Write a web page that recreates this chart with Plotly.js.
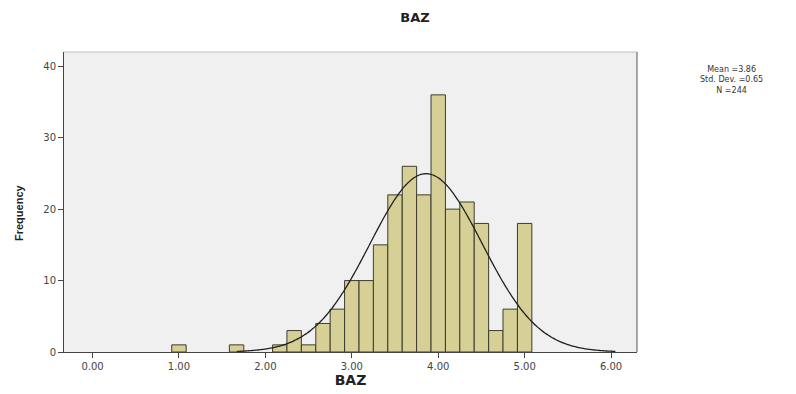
<!DOCTYPE html>
<html>
<head>
<meta charset="utf-8">
<script src="https://cdn.plot.ly/plotly-3.0.1.min.js"></script>
<style>html,body{margin:0;padding:0;background:#fff;}#chart{width:796px;height:394px;}</style>
</head>
<body>
<div id="chart"></div>
<script>
// Histogram of BAZ (bin centres and frequencies)
const binCenters = [1.000, 1.667, 2.167, 2.333, 2.500, 2.667, 2.833, 3.000, 3.167, 3.333,
                    3.500, 3.667, 3.833, 4.000, 4.167, 4.333, 4.500, 4.667, 4.833, 5.000];
const frequencies = [1, 1, 1, 3, 1, 4, 6, 10, 10, 15,
                     22, 26, 22, 36, 20, 21, 18, 3, 6, 18];
const binWidth = 1 / 6;

// Summary statistics shown on the chart
const statMean = 3.86;
const statSD = 0.65;
const statN = 244;
const statLabels = ['Mean =3.86', 'Std. Dev. =0.65', 'N =244'];

const xTickVals = [0, 1, 2, 3, 4, 5, 6];
const yTickVals = [0, 10, 20, 30, 40];

// Fitted normal curve from the displayed mean / SD / N (as SPSS draws it)
const curveStart = 1.67, curveEnd = 6.05;
const curveX = [], curveY = [];
for (let x = curveStart; x <= curveEnd + 1e-9; x += 0.02) {
  const z = (x - statMean) / statSD;
  curveX.push(x);
  curveY.push(statN * binWidth / (statSD * Math.sqrt(2 * Math.PI)) * Math.exp(-0.5 * z * z));
}

const font = '"DejaVu Sans", Arial, sans-serif';
const plotW = 796 - 64 - 159, plotH = 394 - 52 - 42;

const traces = [
  {
    type: 'bar',
    x: binCenters,
    y: frequencies,
    width: binCenters.map(() => binWidth),
    marker: { color: '#d6d096', line: { color: '#3c3c30', width: 1 } },
    hoverinfo: 'x+y',
    showlegend: false
  },
  {
    type: 'scatter',
    mode: 'lines',
    x: curveX,
    y: curveY,
    line: { color: '#222222', width: 1.3, shape: 'spline' },
    hoverinfo: 'skip',
    showlegend: false
  }
];

const annotations = [{
  text: statLabels.join('<br>'), xref: 'paper', yref: 'paper',
  x: (731 - 64) / plotW, y: 1 - (28 / plotH),
  xanchor: 'center', yanchor: 'middle', align: 'center', showarrow: false,
  font: { family: font, size: 8, color: '#333' }
}, {
  text: '<b>Frequency</b>', xref: 'paper', yref: 'paper',
  x: (19 - 64) / plotW, y: 1 - (213 - 52) / plotH,
  xanchor: 'center', yanchor: 'middle', showarrow: false, textangle: -90,
  font: { family: '"Liberation Sans Narrow", "Arial Narrow", Arial, sans-serif', size: 11, color: '#222' }
}];

const layout = {
  width: 796,
  height: 394,
  margin: { l: 64, r: 159, t: 52, b: 42 },
  paper_bgcolor: '#ffffff',
  plot_bgcolor: '#f0f0f0',
  showlegend: false,
  title: {
    text: '<b>BAZ</b>',
    font: { family: font, size: 13, color: '#222' },
    x: 415 / 796, xanchor: 'center', xref: 'container',
    y: 1 - 17 / 394, yanchor: 'middle', yref: 'container'
  },
  xaxis: {
    range: [-0.33, 6.3],
    tickvals: xTickVals,
    tickformat: '.2f',
    ticks: 'outside', ticklen: 5, tickwidth: 1, tickcolor: '#444',
    showgrid: false, zeroline: false,
    showline: true, linecolor: '#444', linewidth: 1,
    tickfont: { family: font, size: 10, color: '#444' },
    title: { text: '<b>BAZ</b>', font: { family: font, size: 14, color: '#222' }, standoff: 4 }
  },
  yaxis: {
    range: [0, 42],
    tickvals: yTickVals,
    ticks: 'outside', ticklen: 5, tickwidth: 1, tickcolor: '#444',
    showgrid: false, zeroline: false,
    showline: true, linecolor: '#444', linewidth: 1,
    tickfont: { family: font, size: 10, color: '#444' }
  },
  shapes: [
    { type: 'line', xref: 'paper', yref: 'paper', x0: 0, x1: 1, y0: 1, y1: 1, line: { color: '#bdbdbd', width: 1 } },
    { type: 'line', xref: 'paper', yref: 'paper', x0: 1, x1: 1, y0: 0, y1: 1, line: { color: '#555555', width: 1 } }
  ],
  annotations: annotations
};

Plotly.newPlot('chart', traces, layout, { displayModeBar: false, staticPlot: true });
</script>
</body>
</html>
